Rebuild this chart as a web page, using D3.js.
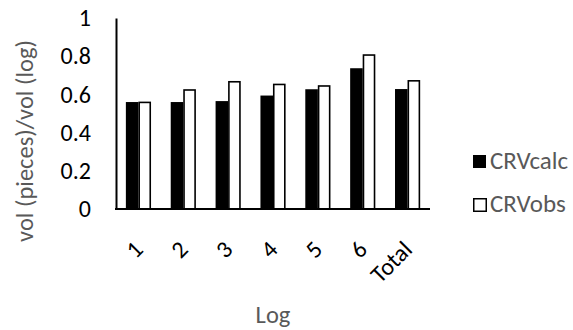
<!DOCTYPE html>
<meta charset="utf-8">
<style>
body { margin: 0; background: #fff; }
text { font-family: Calibri, Carlito, "Open Sans", sans-serif; }
</style>
<svg id="chart" width="573" height="330"></svg>
<script src="https://d3js.org/d3.v7.min.js"></script>
<script>

var categories = ["1", "2", "3", "4", "5", "6", "Total"];
var crvCalc = [0.56, 0.56, 0.565, 0.594, 0.627, 0.737, 0.628];
var crvObs = [0.562, 0.627, 0.67, 0.656, 0.648, 0.81, 0.675];
var seriesNames = ["CRVcalc", "CRVobs"];
var yTicks = [0, 0.2, 0.4, 0.6, 0.8, 1];

var svg = d3.select("svg#chart"),
	plotLeft = 116, plotRight = 430, plotTop = 18, plotBottom = 209;

var x = d3.scaleBand()
	.domain(categories)
	.range([plotLeft, plotRight])
	.paddingInner(0.44)
	.paddingOuter(0.22);

var sub = d3.scaleBand()
	.domain(seriesNames)
	.range([0, x.bandwidth()]);

var y = d3.scaleLinear().domain([0, 1]).range([plotBottom, plotTop]);

var rows = categories.map(function(c, i) {
	return { cat: c, values: [crvCalc[i], crvObs[i]] };
});

var fills = ["#000", "#fff"];

var groups = svg.append("g").selectAll("g")
	.data(rows)
	.enter().append("g")
		.attr("transform", function(d) { return "translate(" + x(d.cat) + ",0)"; });

groups.selectAll("rect")
	.data(function(d) { return d.values.map(function(v, j) { return { name: seriesNames[j], v: v, j: j }; }); })
	.enter().append("rect")
		.attr("x", function(d) { return sub(d.name) + (d.j ? 0.75 : 0); })
		.attr("y", function(d) { return y(d.v) + (d.j ? 0.75 : 0); })
		.attr("width", function(d) { return sub.bandwidth() - (d.j ? 1.5 : 0); })
		.attr("height", function(d) { return y(0) - y(d.v) - (d.j ? 0.75 : 0); })
		.attr("fill", function(d) { return fills[d.j]; })
		.attr("stroke", function(d) { return d.j ? "#000" : "none"; })
		.attr("stroke-width", 1.6);

// y axis
var yAxis = svg.append("g")
	.attr("transform", "translate(" + plotLeft + ",0)")
	.call(d3.axisLeft(y).tickValues(yTicks).tickSize(0).tickPadding(25)
		.tickFormat(function(d) { return d3.format("")(+d.toFixed(1)); }));
yAxis.select(".domain").attr("stroke", "#000").attr("stroke-width", 2);
yAxis.selectAll("text")
	.attr("font-size", 24)
	.attr("fill", "#000")
	.style("font-family", "Calibri, Carlito, 'Open Sans', sans-serif");

// x axis
var xAxis = svg.append("g")
	.attr("transform", "translate(0," + plotBottom + ")")
	.call(d3.axisBottom(x).tickSize(0).tickFormat(""));
xAxis.select(".domain").attr("stroke", "#000").attr("stroke-width", 2)
	.attr("d", "M" + (plotLeft - 1) + ",0H" + plotRight);

svg.append("g").selectAll("text")
	.data(categories)
	.enter().append("text")
		.attr("transform", function(d) {
			return "translate(" + (x(d) + x.bandwidth() / 2) + ",245) rotate(-45)";
		})
		.attr("text-anchor", "end")
		.attr("dominant-baseline", "central")
		.attr("font-size", 24)
		.attr("fill", "#000")
		.text(function(d) { return d; });

// titles
svg.append("text")
	.attr("x", (plotLeft + plotRight) / 2)
	.attr("y", 323)
	.attr("text-anchor", "middle")
	.attr("font-size", 24.5)
	.attr("fill", "#595959")
	.text("Log");

svg.append("text")
	.attr("transform", "translate(33,141) rotate(-90)")
	.attr("text-anchor", "middle")
	.attr("font-size", 24.5)
	.attr("fill", "#595959")
	.text("vol (pieces)/vol (log)");

// legend
var legend = svg.append("g").selectAll("g")
	.data(seriesNames)
	.enter().append("g")
		.attr("transform", function(d, i) { return "translate(473," + (155 + i * 43) + ")"; });

legend.append("rect")
	.attr("x", function(d, i) { return i ? 0.75 : 0; })
	.attr("y", function(d, i) { return i ? 0.75 : 0; })
	.attr("width", function(d, i) { return i ? 12.5 : 13; })
	.attr("height", function(d, i) { return i ? 12.5 : 13; })
	.attr("fill", function(d, i) { return fills[i]; })
	.attr("stroke", function(d, i) { return i ? "#000" : "none"; })
	.attr("stroke-width", 1.5);

legend.append("text")
	.attr("x", 17)
	.attr("y", 14)
	.attr("font-size", 25)
	.attr("fill", "#595959")
	.text(function(d) { return d; });

</script>
